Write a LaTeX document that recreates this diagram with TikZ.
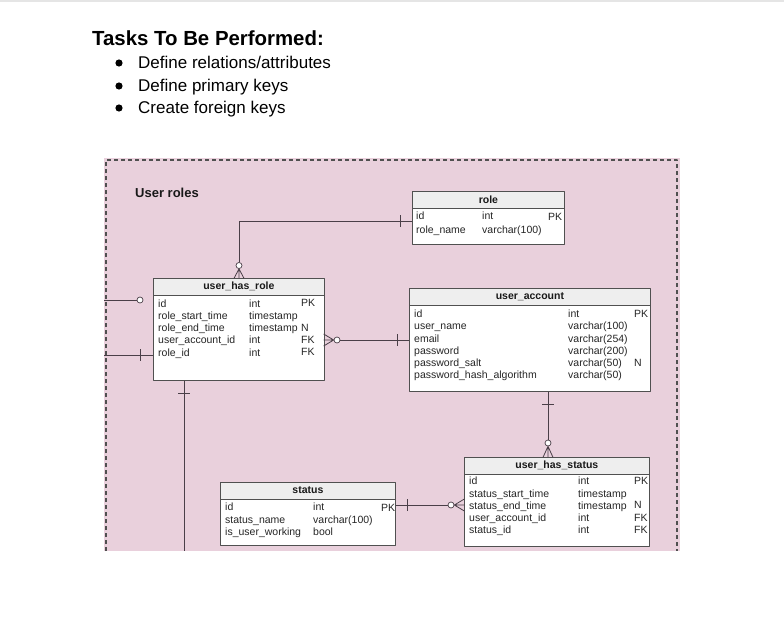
\documentclass[tikz,border=0pt]{standalone}
\usepackage{fontspec}
\setmainfont{Liberation Sans}
\usepackage{xcolor}

\definecolor{pinkbg}{HTML}{E9D0DC}
\definecolor{edgegray}{HTML}{505050}
\definecolor{wirecol}{HTML}{4A3F48}
\definecolor{hdrfill}{HTML}{EEEEEE}

\tikzset{
  tbl/.style={draw=edgegray,fill=white,anchor=north west,inner sep=0pt,line width=0.8pt},
  hdr/.style={font=\fontsize{10.5}{12}\selectfont\bfseries,inner sep=0pt,text=black!90},
  col/.style={anchor=north west,inner sep=0pt,align=left,text=black!85,
    font=\fontsize{10.5}{12.2}\selectfont,execute at begin node=\strut},
  opt/.style={circle,draw=wirecol,fill=white,inner sep=0pt,minimum size=6pt,line width=0.7pt},
  wire/.style={draw=wirecol,line width=0.8pt},
}

\begin{document}
\begin{tikzpicture}[x=1pt,y=-1pt,line join=round]
  \useasboundingbox (0,0) rectangle (784,640);
  \fill[black!10] (0,0) rectangle (784,1.5);

  % task list
  \node[anchor=base west,inner sep=0pt,font=\fontsize{20.4}{24}\selectfont\bfseries] (title) at (92,45) {Tasks To Be Performed:};
  \node[anchor=base west,inner sep=0pt,font=\fontsize{17}{20}\selectfont] (task1) at (138,68) {Define relations/attributes};
  \node[anchor=base west,inner sep=0pt,font=\fontsize{17}{20}\selectfont] (task2) at (138,91) {Define primary keys};
  \node[anchor=base west,inner sep=0pt,font=\fontsize{17}{20}\selectfont] (task3) at (138,113) {Create foreign keys};
  \fill (119,63) circle (3.6);
  \fill (119,86) circle (3.6);
  \fill (119,108) circle (3.6);

  % diagram frame
  \fill[pinkbg] (104,158) rectangle (680,551);
  \draw[edgegray,line width=1.3pt,dash pattern=on 4pt off 3pt] (106,551) -- (106,160) -- (677,160) -- (677,551);
  \node[anchor=base west,inner sep=0pt,font=\fontsize{13}{15}\selectfont\bfseries,text=black!90] (group) at (135,197) {User roles};

  % tables
  \node[tbl,minimum width=152pt,minimum height=53pt] (role) at (412,191) {};
  \draw[edgegray,fill=hdrfill,line width=0.8pt] (role.north west) rectangle ([yshift=-17pt]role.north east);
  \node[hdr] (role-h) at ([yshift=-8.5pt]role.north) {role};
  \node[col,font=\fontsize{10.5}{13.5}\selectfont] (role-n) at (416,212) {id\\role\_name};
  \node[col,font=\fontsize{10.5}{13.5}\selectfont] (role-t) at (482,212) {int\\varchar(100)};
  \node[col] (role-k) at (548,212) {PK};

  \node[tbl,minimum width=171pt,minimum height=102pt] (uhr) at (153,278) {};
  \draw[edgegray,fill=hdrfill,line width=0.8pt] (uhr.north west) rectangle ([yshift=-17pt]uhr.north east);
  \node[hdr] (uhr-h) at ([yshift=-8.5pt]uhr.north) {user\_has\_role};
  \node[col] (uhr-n) at (158,299.5) {id\\role\_start\_time\\role\_end\_time\\user\_account\_id\\role\_id};
  \node[col] (uhr-t) at (249,299.5) {int\\timestamp\\timestamp\\int\\int};
  \node[col] (uhr-k) at (301,299.5) {PK\\\strut\\N\\FK\\FK};

  \node[tbl,minimum width=241pt,minimum height=103pt] (ua) at (409,288) {};
  \draw[edgegray,fill=hdrfill,line width=0.8pt] (ua.north west) rectangle ([yshift=-17pt]ua.north east);
  \node[hdr] (ua-h) at ([yshift=-8.5pt]ua.north) {user\_account};
  \node[col] (ua-n) at (414,309.8) {id\\user\_name\\email\\password\\password\_salt\\password\_hash\_algorithm};
  \node[col] (ua-t) at (568,309.8) {int\\varchar(100)\\varchar(254)\\varchar(200)\\varchar(50)\\varchar(50)};
  \node[col] (ua-k) at (634,309.8) {PK\\\strut\\\strut\\\strut\\N};

  \node[tbl,minimum width=185pt,minimum height=89pt] (uhs) at (464,457) {};
  \draw[edgegray,fill=hdrfill,line width=0.8pt] (uhs.north west) rectangle ([yshift=-17pt]uhs.north east);
  \node[hdr] (uhs-h) at ([yshift=-8.5pt]uhs.north) {user\_has\_status};
  \node[col] (uhs-n) at (469,477) {id\\status\_start\_time\\status\_end\_time\\user\_account\_id\\status\_id};
  \node[col] (uhs-t) at (578,477) {int\\timestamp\\timestamp\\int\\int};
  \node[col] (uhs-k) at (634,477) {PK\\\strut\\N\\FK\\FK};

  \node[tbl,minimum width=175pt,minimum height=63pt] (status) at (220,482) {};
  \draw[edgegray,fill=hdrfill,line width=0.8pt] (status.north west) rectangle ([yshift=-17pt]status.north east);
  \node[hdr] (status-h) at ([yshift=-8.5pt]status.north) {status};
  \node[col,font=\fontsize{10.5}{12.5}\selectfont] (status-n) at (225,503) {id\\status\_name\\is\_user\_working};
  \node[col,font=\fontsize{10.5}{12.5}\selectfont] (status-t) at (313,503) {int\\varchar(100)\\bool};
  \node[col] (status-k) at (381,503) {PK};

  % free ends at the frame
  \coordinate (edgeL1) at (104,300);
  \coordinate (edgeL2) at (104,355);
  \coordinate (edgeB) at (184,551);

  % optional ends
  \node[opt] (o1) at (239,265.5) {};
  \node[opt] (o2) at (140,300) {};
  \node[opt] (o3) at (337,340) {};
  \node[opt] (o4) at (548,443) {};
  \node[opt] (o5) at (451,505) {};

  % relations
  \draw[wire] (role.west |- 0,221) -| (o1.north);
  \draw[wire] (o1.south) -- ++(-5,9.5) (o1.south) -- ++(0,9.5) (o1.south) -- ++(5,9.5);
  \draw[wire] (400,215) -- (400,227);

  \draw[wire] (edgeL1) -- (o2.west);

  \draw[wire] (edgeL2) -- (uhr.west |- edgeL2);
  \draw[wire] (140,349) -- (140,361);

  \draw[wire] (uhr.south -| edgeB) -- (edgeB);
  \draw[wire] (178,393) -- (190,393);

  \draw[wire] (o3.east) -- (ua.west |- o3);
  \draw[wire] (o3.west) -- ++(-10,-6) (o3.west) -- ++(-10,0) (o3.west) -- ++(-10,6);
  \draw[wire] (397,334) -- (397,346);

  \draw[wire] (ua.south -| o4) -- (o4.north);
  \draw[wire] (o4.south) -- ++(-5,11) (o4.south) -- ++(0,11) (o4.south) -- ++(5,11);
  \draw[wire] (542,404) -- (554,404);

  \draw[wire] (status.east |- o5) -- (o5.west);
  \draw[wire] (o5.east) -- ++(10,-6) (o5.east) -- ++(10,0) (o5.east) -- ++(10,6);
  \draw[wire] (407,499) -- (407,511);
\end{tikzpicture}
\end{document}
